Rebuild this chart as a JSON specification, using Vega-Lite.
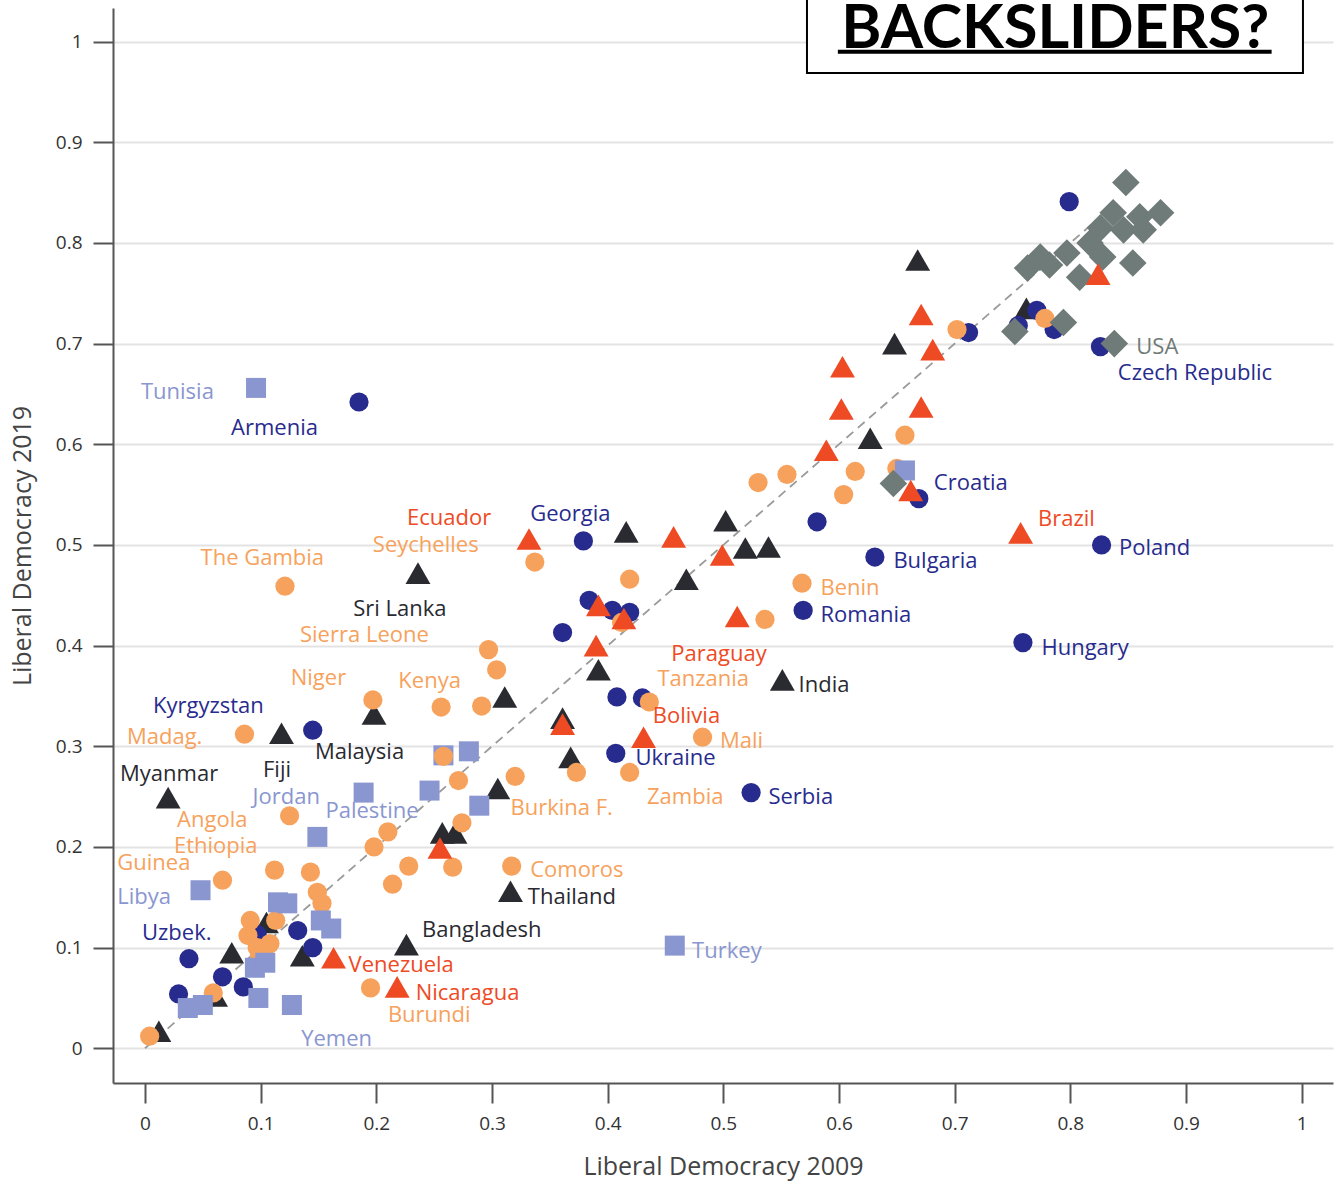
{
  "$schema": "https://vega.github.io/schema/vega-lite/v6.json",
  "width": 1220,
  "height": 1075,
  "autosize": "none",
  "padding": {"left": 113, "top": 8, "right": 5, "bottom": 102},
  "background": "white",
  "config": {
    "view": {"stroke": null},
    "font": "Open Sans",
    "axis": {
      "domainColor": "#555555", "domainWidth": 2,
      "tickColor": "#555555", "tickWidth": 2, "tickSize": 20,
      "labelFont": "Open Sans", "labelFontSize": 19, "labelColor": "#333333", "labelPadding": 11,
      "titleFont": "Open Sans", "titleFontSize": 25, "titleFontWeight": "normal", "titleColor": "#444444"
    }
  },
  "datasets": {
    "pts": [
      {"x":0.668,"y":0.783,"g":"as"},{"x":0.762,"y":0.735,"g":"as"},{"x":0.648,"y":0.700,"g":"as"},{"x":0.627,"y":0.606,"g":"as"},
      {"x":0.502,"y":0.524,"g":"as"},{"x":0.519,"y":0.497,"g":"as"},{"x":0.539,"y":0.498,"g":"as"},{"x":0.468,"y":0.466,"g":"as"},
      {"x":0.416,"y":0.513,"g":"as"},{"x":0.236,"y":0.472,"g":"as"},{"x":0.392,"y":0.376,"g":"as"},{"x":0.551,"y":0.366,"g":"as"},
      {"x":0.311,"y":0.349,"g":"as"},{"x":0.361,"y":0.328,"g":"as"},{"x":0.368,"y":0.289,"g":"as"},{"x":0.305,"y":0.258,"g":"as"},
      {"x":0.257,"y":0.214,"g":"as"},{"x":0.268,"y":0.214,"g":"as"},{"x":0.316,"y":0.156,"g":"as"},{"x":0.226,"y":0.103,"g":"as"},
      {"x":0.198,"y":0.332,"g":"as"},{"x":0.118,"y":0.313,"g":"as"},{"x":0.020,"y":0.249,"g":"as"},{"x":0.105,"y":0.125,"g":"as"},
      {"x":0.075,"y":0.095,"g":"as"},{"x":0.136,"y":0.092,"g":"as"},{"x":0.061,"y":0.052,"g":"as"},{"x":0.012,"y":0.017,"g":"as"},
      {"x":0.799,"y":0.841,"g":"pc"},{"x":0.712,"y":0.711,"g":"pc"},{"x":0.755,"y":0.718,"g":"pc"},{"x":0.771,"y":0.733,"g":"pc"},
      {"x":0.786,"y":0.714,"g":"pc"},{"x":0.826,"y":0.697,"g":"pc"},{"x":0.669,"y":0.546,"g":"pc"},{"x":0.581,"y":0.523,"g":"pc"},
      {"x":0.631,"y":0.488,"g":"pc"},{"x":0.827,"y":0.500,"g":"pc"},{"x":0.569,"y":0.435,"g":"pc"},{"x":0.759,"y":0.403,"g":"pc"},
      {"x":0.524,"y":0.254,"g":"pc"},{"x":0.407,"y":0.293,"g":"pc"},{"x":0.379,"y":0.504,"g":"pc"},{"x":0.384,"y":0.445,"g":"pc"},
      {"x":0.404,"y":0.435,"g":"pc"},{"x":0.419,"y":0.433,"g":"pc"},{"x":0.361,"y":0.413,"g":"pc"},{"x":0.408,"y":0.349,"g":"pc"},
      {"x":0.430,"y":0.348,"g":"pc"},{"x":0.185,"y":0.642,"g":"pc"},{"x":0.145,"y":0.316,"g":"pc"},{"x":0.038,"y":0.089,"g":"pc"},
      {"x":0.029,"y":0.054,"g":"pc"},{"x":0.067,"y":0.071,"g":"pc"},{"x":0.085,"y":0.061,"g":"pc"},{"x":0.132,"y":0.117,"g":"pc"},
      {"x":0.145,"y":0.100,"g":"pc"},{"x":0.097,"y":0.113,"g":"pc"},
      {"x":0.702,"y":0.714,"g":"af"},{"x":0.778,"y":0.725,"g":"af"},{"x":0.657,"y":0.609,"g":"af"},{"x":0.650,"y":0.576,"g":"af"},
      {"x":0.614,"y":0.573,"g":"af"},{"x":0.604,"y":0.550,"g":"af"},{"x":0.555,"y":0.570,"g":"af"},{"x":0.530,"y":0.562,"g":"af"},
      {"x":0.568,"y":0.462,"g":"af"},{"x":0.536,"y":0.426,"g":"af"},{"x":0.337,"y":0.483,"g":"af"},{"x":0.419,"y":0.466,"g":"af"},
      {"x":0.412,"y":0.423,"g":"af"},{"x":0.297,"y":0.396,"g":"af"},{"x":0.304,"y":0.376,"g":"af"},{"x":0.291,"y":0.340,"g":"af"},
      {"x":0.256,"y":0.339,"g":"af"},{"x":0.197,"y":0.346,"g":"af"},{"x":0.436,"y":0.344,"g":"af"},{"x":0.482,"y":0.309,"g":"af"},
      {"x":0.419,"y":0.274,"g":"af"},{"x":0.373,"y":0.274,"g":"af"},{"x":0.320,"y":0.270,"g":"af"},{"x":0.271,"y":0.266,"g":"af"},
      {"x":0.274,"y":0.224,"g":"af"},{"x":0.125,"y":0.231,"g":"af"},{"x":0.086,"y":0.312,"g":"af"},{"x":0.121,"y":0.459,"g":"af"},
      {"x":0.210,"y":0.215,"g":"af"},{"x":0.198,"y":0.200,"g":"af"},{"x":0.228,"y":0.181,"g":"af"},{"x":0.266,"y":0.180,"g":"af"},
      {"x":0.214,"y":0.163,"g":"af"},{"x":0.317,"y":0.181,"g":"af"},{"x":0.112,"y":0.177,"g":"af"},{"x":0.143,"y":0.175,"g":"af"},
      {"x":0.067,"y":0.167,"g":"af"},{"x":0.149,"y":0.155,"g":"af"},{"x":0.153,"y":0.144,"g":"af"},{"x":0.091,"y":0.127,"g":"af"},
      {"x":0.089,"y":0.112,"g":"af"},{"x":0.113,"y":0.127,"g":"af"},{"x":0.108,"y":0.104,"g":"af"},{"x":0.097,"y":0.100,"g":"af"},
      {"x":0.099,"y":0.092,"g":"af"},{"x":0.195,"y":0.060,"g":"af"},{"x":0.059,"y":0.055,"g":"af"},{"x":0.004,"y":0.012,"g":"af"},
      {"x":0.096,"y":0.656,"g":"me"},{"x":0.657,"y":0.574,"g":"me"},{"x":0.280,"y":0.295,"g":"me"},{"x":0.258,"y":0.291,"g":"me"},
      {"x":0.189,"y":0.254,"g":"me"},{"x":0.246,"y":0.256,"g":"me"},{"x":0.289,"y":0.241,"g":"me"},{"x":0.149,"y":0.210,"g":"me"},
      {"x":0.048,"y":0.157,"g":"me"},{"x":0.115,"y":0.145,"g":"me"},{"x":0.123,"y":0.144,"g":"me"},{"x":0.152,"y":0.127,"g":"me"},
      {"x":0.161,"y":0.119,"g":"me"},{"x":0.095,"y":0.080,"g":"me"},{"x":0.104,"y":0.085,"g":"me"},{"x":0.098,"y":0.050,"g":"me"},
      {"x":0.037,"y":0.040,"g":"me"},{"x":0.050,"y":0.043,"g":"me"},{"x":0.127,"y":0.043,"g":"me"},{"x":0.458,"y":0.102,"g":"me"},
      {"x":0.258,"y":0.290,"g":"af"},
      {"x":0.848,"y":0.860,"g":"w"},{"x":0.837,"y":0.830,"g":"w"},{"x":0.860,"y":0.826,"g":"w"},{"x":0.878,"y":0.830,"g":"w"},
      {"x":0.846,"y":0.813,"g":"w"},{"x":0.863,"y":0.813,"g":"w"},{"x":0.826,"y":0.815,"g":"w"},{"x":0.817,"y":0.800,"g":"w"},
      {"x":0.828,"y":0.786,"g":"w"},{"x":0.797,"y":0.790,"g":"w"},{"x":0.763,"y":0.775,"g":"w"},{"x":0.774,"y":0.786,"g":"w"},
      {"x":0.782,"y":0.778,"g":"w"},{"x":0.808,"y":0.766,"g":"w"},{"x":0.854,"y":0.780,"g":"w"},{"x":0.794,"y":0.721,"g":"w"},
      {"x":0.752,"y":0.712,"g":"w"},{"x":0.838,"y":0.700,"g":"w"},{"x":0.647,"y":0.561,"g":"w"},
      {"x":0.824,"y":0.769,"g":"la"},{"x":0.671,"y":0.729,"g":"la"},{"x":0.681,"y":0.694,"g":"la"},{"x":0.603,"y":0.677,"g":"la"},
      {"x":0.602,"y":0.635,"g":"la"},{"x":0.671,"y":0.637,"g":"la"},{"x":0.589,"y":0.594,"g":"la"},{"x":0.662,"y":0.554,"g":"la"},
      {"x":0.757,"y":0.512,"g":"la"},{"x":0.332,"y":0.506,"g":"la"},{"x":0.457,"y":0.508,"g":"la"},{"x":0.499,"y":0.490,"g":"la"},
      {"x":0.512,"y":0.429,"g":"la"},{"x":0.392,"y":0.440,"g":"la"},{"x":0.414,"y":0.427,"g":"la"},{"x":0.390,"y":0.400,"g":"la"},
      {"x":0.431,"y":0.309,"g":"la"},{"x":0.361,"y":0.322,"g":"la"},{"x":0.255,"y":0.199,"g":"la"},{"x":0.163,"y":0.090,"g":"la"},
      {"x":0.218,"y":0.061,"g":"la"}
    ],
    "labs": [
      {"x":0.857,"y":0.697,"t":"USA","g":"w"},
      {"x":0.841,"y":0.671,"t":"Czech Republic","g":"pc"},
      {"x":-0.0035,"y":0.652,"t":"Tunisia","g":"me"},
      {"x":0.0744,"y":0.616,"t":"Armenia","g":"pc"},
      {"x":0.682,"y":0.562,"t":"Croatia","g":"pc"},
      {"x":0.772,"y":0.526,"t":"Brazil","g":"la"},
      {"x":0.842,"y":0.497,"t":"Poland","g":"pc"},
      {"x":0.647,"y":0.484,"t":"Bulgaria","g":"pc"},
      {"x":0.584,"y":0.457,"t":"Benin","g":"af"},
      {"x":0.584,"y":0.430,"t":"Romania","g":"pc"},
      {"x":0.775,"y":0.398,"t":"Hungary","g":"pc"},
      {"x":0.2265,"y":0.527,"t":"Ecuador","g":"la"},
      {"x":0.197,"y":0.500,"t":"Seychelles","g":"af"},
      {"x":0.333,"y":0.531,"t":"Georgia","g":"pc"},
      {"x":0.048,"y":0.487,"t":"The Gambia","g":"af"},
      {"x":0.180,"y":0.436,"t":"Sri Lanka","g":"as"},
      {"x":0.134,"y":0.411,"t":"Sierra Leone","g":"af"},
      {"x":0.455,"y":0.392,"t":"Paraguay","g":"la"},
      {"x":0.443,"y":0.367,"t":"Tanzania","g":"af"},
      {"x":0.565,"y":0.361,"t":"India","g":"as"},
      {"x":0.126,"y":0.368,"t":"Niger","g":"af"},
      {"x":0.219,"y":0.365,"t":"Kenya","g":"af"},
      {"x":0.0069,"y":0.340,"t":"Kyrgyzstan","g":"pc"},
      {"x":0.439,"y":0.330,"t":"Bolivia","g":"la"},
      {"x":-0.0156,"y":0.309,"t":"Madag.","g":"af"},
      {"x":0.497,"y":0.305,"t":"Mali","g":"af"},
      {"x":0.147,"y":0.294,"t":"Malaysia","g":"as"},
      {"x":0.424,"y":0.288,"t":"Ukraine","g":"pc"},
      {"x":-0.0216,"y":0.272,"t":"Myanmar","g":"as"},
      {"x":0.102,"y":0.276,"t":"Fiji","g":"as"},
      {"x":0.093,"y":0.250,"t":"Jordan","g":"me"},
      {"x":0.156,"y":0.236,"t":"Palestine","g":"me"},
      {"x":0.434,"y":0.250,"t":"Zambia","g":"af"},
      {"x":0.539,"y":0.250,"t":"Serbia","g":"pc"},
      {"x":0.316,"y":0.239,"t":"Burkina F.","g":"af"},
      {"x":0.0277,"y":0.227,"t":"Angola","g":"af"},
      {"x":0.025,"y":0.201,"t":"Ethiopia","g":"af"},
      {"x":-0.024,"y":0.184,"t":"Guinea","g":"af"},
      {"x":0.333,"y":0.177,"t":"Comoros","g":"af"},
      {"x":0.331,"y":0.150,"t":"Thailand","g":"as"},
      {"x":-0.024,"y":0.150,"t":"Libya","g":"me"},
      {"x":-0.0026,"y":0.115,"t":"Uzbek.","g":"pc"},
      {"x":0.2395,"y":0.118,"t":"Bangladesh","g":"as"},
      {"x":0.473,"y":0.097,"t":"Turkey","g":"me"},
      {"x":0.176,"y":0.083,"t":"Venezuela","g":"la"},
      {"x":0.234,"y":0.055,"t":"Nicaragua","g":"la"},
      {"x":0.210,"y":0.033,"t":"Burundi","g":"af"},
      {"x":0.135,"y":0.009,"t":"Yemen","g":"me"}
    ]
  },
  "layer": [
    {
      "data": {"values": [{"x": 0, "y": 0, "x2": 0.84, "y2": 0.84}]},
      "mark": {"type": "rule", "color": "#9a9a9a", "strokeWidth": 1.8, "strokeDash": [9, 6]},
      "encoding": {
        "x": {"field": "x", "type": "quantitative", "scale": {"domain": [-0.02767, 1.02707], "nice": false, "zero": false},
          "axis": {"values": [0,0.1,0.2,0.3,0.4,0.5,0.6,0.7,0.8,0.9,1], "format": "~g", "grid": false, "title": "Liberal Democracy 2009", "titlePadding": 21}},
        "y": {"field": "y", "type": "quantitative", "scale": {"domain": [-0.03447, 1.03338], "nice": false, "zero": false},
          "axis": {"values": [0,0.1,0.2,0.3,0.4,0.5,0.6,0.7,0.8,0.9,1], "format": "~g", "grid": true, "gridColor": "#e3e3e3", "gridWidth": 2, "title": "Liberal Democracy 2019", "titlePadding": 20}},
        "x2": {"field": "x2"},
        "y2": {"field": "y2"}
      }
    },
    {
      "data": {"name": "pts"},
      "mark": {"type": "point", "filled": true, "opacity": 1, "strokeWidth": 0},
      "encoding": {
        "x": {"field": "x", "type": "quantitative"},
        "y": {"field": "y", "type": "quantitative"},
        "shape": {"field": "g", "type": "nominal", "legend": null,
          "scale": {"domain": ["pc","af","la","as","me","w"], "range": ["circle","circle","triangle-up","triangle-up","square","diamond"]}},
        "color": {"field": "g", "type": "nominal", "legend": null,
          "scale": {"domain": ["pc","af","la","as","me","w"], "range": ["#282b8e","#f7a25c","#ee4a24","#2a2a31","#8a96d0","#6f7b78"]}},
        "size": {
          "condition": [
            {"test": "datum.g === 'la' || datum.g === 'as'", "value": 620},
            {"test": "datum.g === 'w'", "value": 760},
            {"test": "datum.g === 'me'", "value": 400}
          ],
          "value": 370
        }
      }
    },
    {
      "data": {"name": "labs"},
      "mark": {"type": "text", "align": "left", "baseline": "middle", "font": "Open Sans", "fontSize": 22},
      "encoding": {
        "x": {"field": "x", "type": "quantitative"},
        "y": {"field": "y", "type": "quantitative"},
        "text": {"field": "t"},
        "color": {"field": "g", "type": "nominal", "legend": null,
          "scale": {"domain": ["pc","af","la","as","me","w"], "range": ["#2f3190","#f5a262","#eb4a2a","#222222","#8b96cc","#7b8785"]}}
      }
    },
    {
      "data": {"values": [{"x": 0.5723, "x2": 1.0011, "y": 0.9689, "y2": 1.06}]},
      "mark": {"type": "rect", "fill": "white", "stroke": "black", "strokeWidth": 2},
      "encoding": {
        "x": {"field": "x", "type": "quantitative"},
        "x2": {"field": "x2"},
        "y": {"field": "y", "type": "quantitative"},
        "y2": {"field": "y2"}
      }
    },
    {
      "data": {"values": [{"x": 0.599, "x2": 0.974, "y": 0.990}]},
      "mark": {"type": "rule", "color": "black", "strokeWidth": 4},
      "encoding": {
        "x": {"field": "x", "type": "quantitative"},
        "x2": {"field": "x2"},
        "y": {"field": "y", "type": "quantitative"}
      }
    },
    {
      "data": {"values": [{"x": 0.787, "y": 0.9935, "t": "BACKSLIDERS?"}]},
      "mark": {"type": "text", "align": "center", "baseline": "alphabetic", "font": "Lato", "fontWeight": "bold", "fontSize": 61, "color": "black"},
      "encoding": {
        "x": {"field": "x", "type": "quantitative"},
        "y": {"field": "y", "type": "quantitative"},
        "text": {"field": "t"}
      }
    }
  ]
}
